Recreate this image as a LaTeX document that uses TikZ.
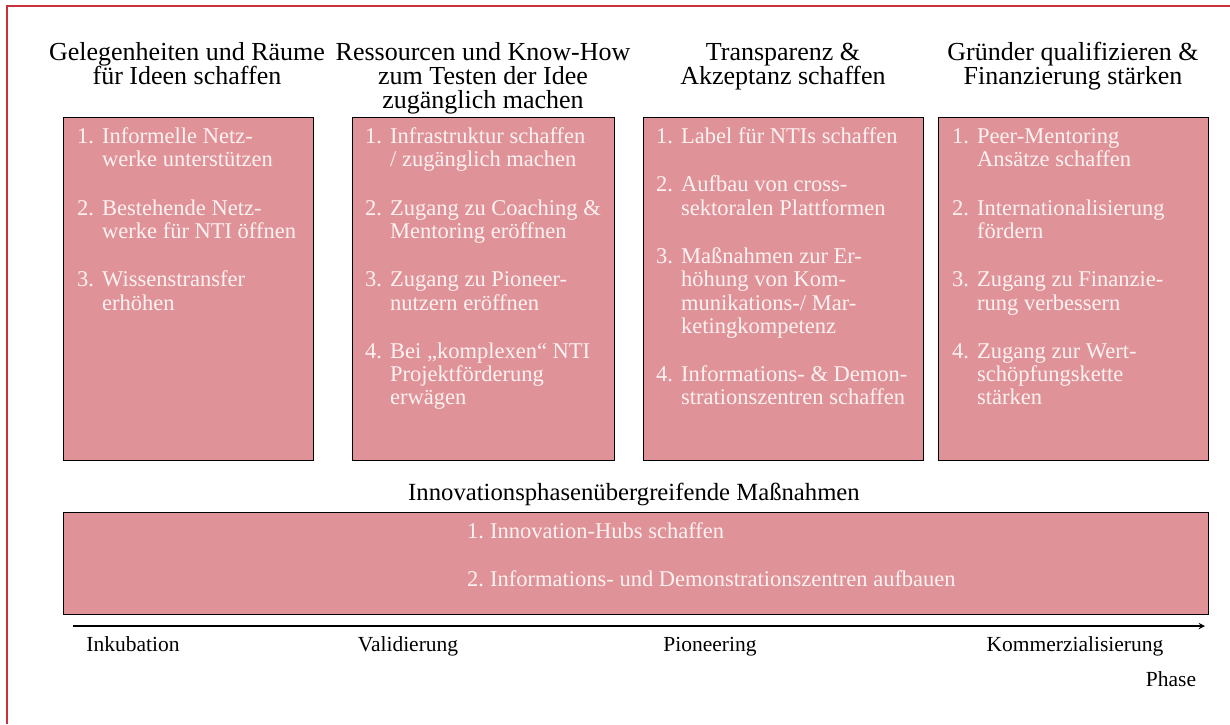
\documentclass[tikz,border=0pt]{standalone}
\usepackage{fontspec}
\setmainfont{Liberation Serif}
\usetikzlibrary{arrows}
\definecolor{boxfill}{RGB}{223,147,152}
\definecolor{framered}{RGB}{200,50,60}
\definecolor{itemtext}{RGB}{255,242,242}
\newcommand{\itemfont}{\fontsize{22.5}{23.3}\selectfont}
\newcommand{\headfont}{\fontsize{26}{24}\selectfont}

\begin{document}
\begin{tikzpicture}
  [x=1pt,y=-1pt,>=stealth,
   box/.style={draw=black,line width=1.4pt,fill=boxfill,anchor=north west,inner sep=0pt},
   items/.style={text=itemtext,font=\itemfont,anchor=north west,inner sep=0pt},
   head/.style={font=\headfont,align=center,anchor=north,inner sep=0pt},
   phase/.style={font=\fontsize{21.5}{24}\selectfont,anchor=base,inner sep=0pt},]

\useasboundingbox (0,0) rectangle (1230,724);
\draw[framered,line width=2pt] (7,724) -- (7,6) -- (1230,6);

% headings
\node[head] (h1) at (187,42) {Gelegenheiten und Räume\\für Ideen schaffen};
\node[head] (h2) at (483,42) {Ressourcen und Know-How\\zum Testen der Idee\\zugänglich machen};
\node[head] (h3) at (783,43) {Transparenz \&\\Akzeptanz schaffen};
\node[head] (h4) at (1073,42) {Gründer qualifizieren \&\\Finanzierung stärken};

% boxes
\node[box,minimum width=250,minimum height=343] (b1) at (63,117) {};
\node[box,minimum width=262,minimum height=343] (b2) at (352,117) {};
\node[box,minimum width=280,minimum height=343] (b3) at (643,117) {};
\node[box,minimum width=270,minimum height=343] (b4) at (938,117) {};

\node[items] (t1) at ([xshift=14pt,yshift=-10pt]b1.north west) {%
\begin{tabular}{@{}p{25pt}@{}l@{}}
1. & Informelle Netz-\\
   & werke unterstützen\\[25pt]
2. & Bestehende Netz-\\
   & werke für NTI öffnen\\[25pt]
3. & Wissenstransfer\\
   & erhöhen
\end{tabular}};
\node[items] (t2) at ([xshift=13pt,yshift=-10pt]b2.north west) {%
\begin{tabular}{@{}p{25pt}@{}l@{}}
1. & Infrastruktur schaffen\\
   & / zugänglich machen\\[25pt]
2. & Zugang zu Coaching \&\\
   & Mentoring eröffnen\\[25pt]
3. & Zugang zu Pioneer-\\
   & nutzern eröffnen\\[25pt]
4. & Bei „komplexen“ NTI\\
   & Projektförderung\\
   & erwägen
\end{tabular}};
\node[items] (t3) at ([xshift=13pt,yshift=-10pt]b3.north west) {%
\begin{tabular}{@{}p{25pt}@{}l@{}}
1. & Label für NTIs schaffen\\[25pt]
2. & Aufbau von cross-\\
   & sektoralen Plattformen\\[25pt]
3. & Maßnahmen zur Er-\\
   & höhung von Kom-\\
   & munikations-/ Mar-\\
   & ketingkompetenz\\[25pt]
4. & Informations- \& Demon-\\
   & strationszentren schaffen
\end{tabular}};
\node[items] (t4) at ([xshift=14pt,yshift=-10pt]b4.north west) {%
\begin{tabular}{@{}p{25pt}@{}l@{}}
1. & Peer-Mentoring\\
   & Ansätze schaffen\\[25pt]
2. & Internationalisierung\\
   & fördern\\[25pt]
3. & Zugang zu Finanzie-\\
   & rung verbessern\\[25pt]
4. & Zugang zur Wert-\\
   & schöpfungskette\\
   & stärken
\end{tabular}};

% cross-phase measures
\node[head,anchor=base,font=\fontsize{24.7}{24}\selectfont] (h5) at (634,500) {Innovationsphasenübergreifende Maßnahmen};
\node[box,minimum width=1145,minimum height=102] (b5) at (63,512) {};
\node[items] (t5) at (467,521.5) {%
\begin{tabular}{@{}p{23pt}@{}l@{}}
1. & Innovation-Hubs schaffen\\[25.5pt]
2. & Informations- und Demonstrationszentren aufbauen
\end{tabular}};

% phase axis
\coordinate (ax0) at (73,626);
\coordinate (ax1) at (1205,626);
\draw[->,line width=1.8pt] (ax0) -- (ax1);
\node[phase] (p1) at (133,651) {Inkubation};
\node[phase] (p2) at (408,651) {Validierung};
\node[phase] (p3) at (710,651) {Pioneering};
\node[phase] (p4) at (1075,651) {Kommerzialisierung};
\node[phase] (p5) at (1171,686) {Phase};

\end{tikzpicture}
\end{document}
